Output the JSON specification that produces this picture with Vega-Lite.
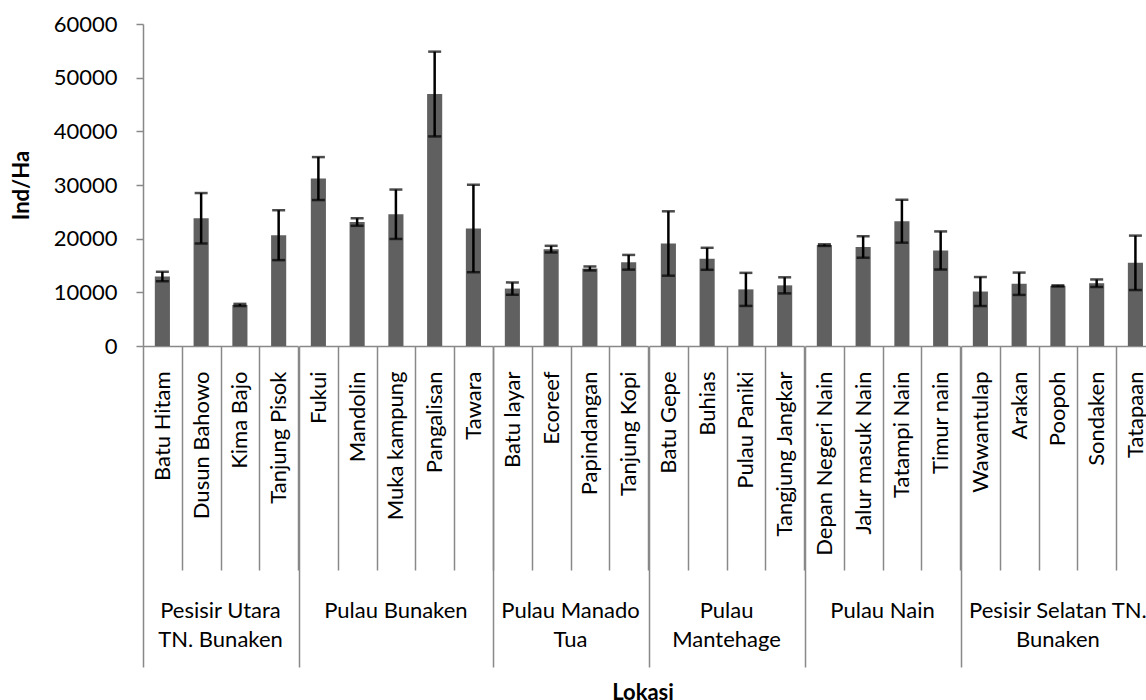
{
  "$schema": "https://vega.github.io/schema/vega-lite/v6.json",
  "padding": {"left": 10, "top": 13, "right": 0, "bottom": 0},
  "background": "white",
  "bounds": "flush",
  "config": {
    "view": {"stroke": null},
    "font": "Lato"
  },
  "title": {
    "text": "Lokasi",
    "orient": "bottom",
    "anchor": "start",
    "dx": 602,
    "offset": 15,
    "font": "Lato",
    "fontSize": 22,
    "fontWeight": "bold",
    "color": "black"
  },
  "data": {
    "values": [
      {"group": "Pesisir Utara TN. Bunaken", "site": "Batu Hitam", "mean": 12950, "sd": 880},
      {"group": "Pesisir Utara TN. Bunaken", "site": "Dusun Bahowo", "mean": 23800, "sd": 4700},
      {"group": "Pesisir Utara TN. Bunaken", "site": "Kima Bajo", "mean": 7650, "sd": 200},
      {"group": "Pesisir Utara TN. Bunaken", "site": "Tanjung Pisok", "mean": 20650, "sd": 4650},
      {"group": "Pulau Bunaken", "site": "Fukui", "mean": 31200, "sd": 4000},
      {"group": "Pulau Bunaken", "site": "Mandolin", "mean": 23100, "sd": 700},
      {"group": "Pulau Bunaken", "site": "Muka kampung", "mean": 24550, "sd": 4600},
      {"group": "Pulau Bunaken", "site": "Pangalisan", "mean": 46950, "sd": 7900},
      {"group": "Pulau Bunaken", "site": "Tawara", "mean": 21900, "sd": 8150},
      {"group": "Pulau Manado Tua", "site": "Batu layar", "mean": 10700, "sd": 1150},
      {"group": "Pulau Manado Tua", "site": "Ecoreef", "mean": 18050, "sd": 620},
      {"group": "Pulau Manado Tua", "site": "Papindangan", "mean": 14450, "sd": 370},
      {"group": "Pulau Manado Tua", "site": "Tanjung Kopi", "mean": 15600, "sd": 1370},
      {"group": "Pulau Mantehage", "site": "Batu Gepe", "mean": 19100, "sd": 6000},
      {"group": "Pulau Mantehage", "site": "Buhias", "mean": 16250, "sd": 2050},
      {"group": "Pulau Mantehage", "site": "Pulau Paniki", "mean": 10550, "sd": 3080},
      {"group": "Pulau Mantehage", "site": "Tangjung Jangkar", "mean": 11300, "sd": 1500},
      {"group": "Pulau Nain", "site": "Depan Negeri Nain", "mean": 18800, "sd": 150},
      {"group": "Pulau Nain", "site": "Jalur masuk Nain", "mean": 18450, "sd": 2000},
      {"group": "Pulau Nain", "site": "Tatampi Nain", "mean": 23250, "sd": 4000},
      {"group": "Pulau Nain", "site": "Timur nain", "mean": 17800, "sd": 3550},
      {"group": "Pesisir Selatan TN. Bunaken", "site": "Wawantulap", "mean": 10150, "sd": 2700},
      {"group": "Pesisir Selatan TN. Bunaken", "site": "Arakan", "mean": 11600, "sd": 2080},
      {"group": "Pesisir Selatan TN. Bunaken", "site": "Poopoh", "mean": 11200, "sd": 100},
      {"group": "Pesisir Selatan TN. Bunaken", "site": "Sondaken", "mean": 11700, "sd": 700},
      {"group": "Pesisir Selatan TN. Bunaken", "site": "Tatapaan", "mean": 15500, "sd": 5070}
    ]
  },
  "facet": {
    "column": {
      "field": "group",
      "type": "nominal",
      "sort": [
        "Pesisir Utara TN. Bunaken",
        "Pulau Bunaken",
        "Pulau Manado Tua",
        "Pulau Mantehage",
        "Pulau Nain",
        "Pesisir Selatan TN. Bunaken"
      ],
      "header": {
        "title": null,
        "labelOrient": "bottom",
        "labelFont": "Lato",
        "labelFontSize": 22,
        "labelColor": "black",
        "labelLineHeight": 29,
        "labelBaseline": "top",
        "labelPadding": 255,
        "labelExpr": "({'Pesisir Utara TN. Bunaken': ['Pesisir Utara', 'TN. Bunaken'], 'Pulau Bunaken': 'Pulau Bunaken', 'Pulau Manado Tua': ['Pulau Manado', 'Tua'], 'Pulau Mantehage': ['Pulau', 'Mantehage'], 'Pulau Nain': 'Pulau Nain', 'Pesisir Selatan TN. Bunaken': ['Pesisir Selatan TN.', 'Bunaken']})[datum.label]"
      }
    }
  },
  "spacing": 0,
  "resolve": {"scale": {"x": "independent"}},
  "spec": {
    "width": {"step": 38.76},
    "height": 322,
    "encoding": {
      "x": {
        "field": "site",
        "type": "nominal",
        "sort": null,
        "scale": {"paddingInner": 0, "paddingOuter": 0},
        "axis": {
          "title": null,
          "labelAngle": -90,
          "labelAlign": "right",
          "labelBaseline": "middle",
          "labelFont": "Lato",
          "labelFontSize": 22,
          "labelColor": "black",
          "labelLimit": 300,
          "tickBand": "extent",
          "tickSize": {"condition": {"test": "datum.extra", "value": 321}, "value": 224},
          "labelPadding": -199,
          "tickColor": "#898989",
          "tickWidth": 1.5,
          "domainColor": "#898989",
          "domainWidth": 1.5
        }
      }
    },
    "layer": [
      {
        "mark": {"type": "bar", "width": {"band": 0.39}, "color": "#606060"},
        "encoding": {
          "y": {
            "field": "mean",
            "type": "quantitative",
            "title": "Ind/Ha",
            "scale": {"domain": [0, 60000]},
            "axis": {
              "titleFont": "Lato",
              "titleFontSize": 22,
              "titleFontWeight": "bold",
              "titleColor": "black",
              "titlePadding": 20,
              "values": [0, 10000, 20000, 30000, 40000, 50000, 60000],
              "format": "d",
              "grid": false,
              "labelFont": "Lato",
              "labelFontSize": 22,
              "labelColor": "black",
              "labelPadding": 19,
              "tickSize": 7,
              "tickColor": "#898989",
              "tickWidth": 1.5,
              "domainColor": "#898989",
              "domainWidth": 1.5
            }
          }
        }
      },
      {
        "mark": {
          "type": "errorbar",
          "color": "black",
          "rule": {"strokeWidth": 2.5},
          "ticks": {"size": 13, "thickness": 2.5}
        },
        "encoding": {
          "y": {"field": "mean", "type": "quantitative", "title": "Ind/Ha"},
          "yError": {"field": "sd"}
        }
      }
    ]
  }
}
